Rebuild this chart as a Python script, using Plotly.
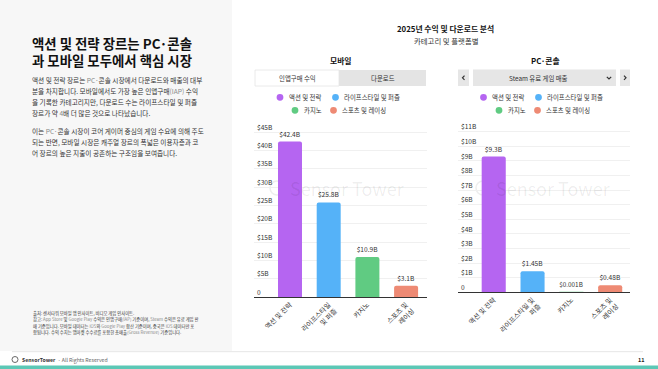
import plotly.graph_objects as go

W, H = 658, 369
FONT = "Noto Sans CJK KR"

# ---------------- data ----------------
categories_mobile = ["액션 및 전략", "라이프스타일<br>및 퍼즐", "카지노", "스포츠 및<br>레이싱"]
mobile_revenue = [42.4, 25.8, 10.9, 3.1]
mobile_labels = ["$42.4B", "$25.8B", "$10.9B", "$3.1B"]

categories_pc = ["액션 및 전략", "라이프스타일 및<br>퍼즐", "카지노", "스포츠 및<br>레이싱"]
pc_revenue = [9.3, 1.45, 0.001, 0.48]
pc_labels = ["$9.3B", "$1.45B", "$0.001B", "$0.48B"]

colors = ["#b565f1", "#55b2f8", "#60cb82", "#ee8a74"]
legend_names = ["액션 및 전략", "라이프스타일 및 퍼즐", "카지노", "스포츠 및 레이싱"]

mobile_tickvals = [0, 5, 10, 15, 20, 25, 30, 35, 40, 45]
mobile_ticktext = ["0", "$5B", "$10B", "$15B", "$20B", "$25B", "$30B", "$35B", "$40B", "$45B"]
pc_tickvals = [0, 1, 2, 3, 4, 5, 6, 7, 8, 9, 10, 11]
pc_ticktext = ["0", "$1B", "$2B", "$3B", "$4B", "$5B", "$6B", "$7B", "$8B", "$9B", "$10B", "$11B"]


def X(px):
    return px / W


def Y(py):
    return 1 - py / H


fig = go.Figure()

fig.add_trace(go.Bar(
    x=categories_mobile, y=mobile_revenue, text=mobile_labels,
    textposition="outside", cliponaxis=False,
    textfont=dict(size=6.6, color="#333333", family=FONT),
    marker=dict(color=colors, cornerradius=2, line=dict(width=0)),
    width=0.62, xaxis="x", yaxis="y", showlegend=False,
))
fig.add_trace(go.Bar(
    x=categories_pc, y=pc_revenue, text=pc_labels,
    textposition="outside", cliponaxis=False,
    textfont=dict(size=6.6, color="#333333", family=FONT),
    marker=dict(color=colors, cornerradius=2, line=dict(width=0)),
    width=0.62, xaxis="x2", yaxis="y2", showlegend=False,
))

# y axes: gridline for top tick at 132px (mobile) / 131.7px (pc); domain extended
# upward a little so that the top "inside top" tick label is not dropped.
m_bot, m_top, m_ext = 297.0, 132.0, 121.0
p_bot, p_top, p_ext = 292.3, 131.7, 120.7
m_rmax = 45 * (m_bot - m_ext) / (m_bot - m_top)
p_rmax = 11 * (p_bot - p_ext) / (p_bot - p_top)

axis_font = dict(size=6.6, color="#333333", family=FONT)
fig.update_layout(
    width=W, height=H,
    margin=dict(l=0, r=0, t=0, b=0),
    paper_bgcolor="white", plot_bgcolor="rgba(0,0,0,0)",
    font=dict(family=FONT, color="#222222"),
    bargap=0.3,
    xaxis=dict(domain=[X(254), X(427)], range=[-0.93, 3.54], anchor="y",
               tickangle=-45, tickfont=dict(size=6.8, color="#333333", family=FONT),
               showline=True, linecolor="#333333", linewidth=1.3,
               showgrid=False, ticks="", fixedrange=True),
    yaxis=dict(domain=[Y(m_bot), Y(m_ext)], range=[0, m_rmax], anchor="x",
               tickvals=mobile_tickvals, ticktext=mobile_ticktext,
               ticklabelposition="inside top", tickfont=axis_font,
               showgrid=True, gridcolor="#f0f0f0", gridwidth=1,
               zeroline=False, showline=False, ticks=""),
    xaxis2=dict(domain=[X(458), X(630)], range=[-0.92, 3.51], anchor="y2",
                tickangle=-45, tickfont=dict(size=6.8, color="#333333", family=FONT),
                showline=True, linecolor="#333333", linewidth=1.3,
                showgrid=False, ticks=""),
    yaxis2=dict(domain=[Y(p_bot), Y(p_ext)], range=[0, p_rmax], anchor="x2",
                tickvals=pc_tickvals, ticktext=pc_ticktext,
                ticklabelposition="inside top", tickfont=axis_font,
                showgrid=True, gridcolor="#f0f0f0", gridwidth=1,
                zeroline=False, showline=False, ticks=""),
)

shapes = []
annotations = []


def rect(x0, y0, x1, y1, fill, line=None, layer="below"):
    shapes.append(dict(type="rect", xref="paper", yref="paper",
                       x0=X(x0), x1=X(x1), y0=Y(y1), y1=Y(y0),
                       fillcolor=fill, layer=layer,
                       line=dict(width=0.8 if line else 0, color=line or fill)))


def text(x, y, s, size, color="#222222", bold=False, xanchor="center", align="left"):
    if bold:
        s = "<b>" + s + "</b>"
    annotations.append(dict(xref="paper", yref="paper", x=X(x), y=Y(y), text=s,
                            showarrow=False, xanchor=xanchor, yanchor="middle", align=align,
                            font=dict(size=size, color=color, family=FONT)))


# left panel background + footer
rect(0, 0, 232, 351, "#f7f7f7")
shapes.append(dict(type="line", xref="paper", yref="paper", x0=X(12), x1=X(643),
                   y0=Y(351.7), y1=Y(351.7), line=dict(color="#e6e6e6", width=1)))
rect(0, 365.5, 658, 369, "#5cc8b6")

# Left text
text(30, 42.5, "액션 및 전략 장르는 PC·콘솔", 13.4, "#111111", bold=True, xanchor="left")
text(30, 60.5, "과 모바일 모두에서 핵심 시장", 13.4, "#111111", bold=True, xanchor="left")

G = "#888888"
para1 = [
    f"액션 및 전략 장르는 <span style='color:{G}'>PC·</span>콘솔 시장에서 다운로드와 매출의 대부",
    f"분을 차지합니다. 모바일에서도 가장 높은 인앱구매<span style='color:{G}'>(IAP)</span> 수익",
    "을 기록한 카테고리지만, 다운로드 수는 라이프스타일 및 퍼즐",
    f"장르가 약 <span style='color:{G}'>4</span>배 더 많은 것으로 나타났습니다.",
]
for i, s in enumerate(para1):
    text(30, 80 + i * 11, s, 6.65, "#333333", xanchor="left")
para2 = [
    f"이는 <span style='color:{G}'>PC·</span>콘솔 시장이 코어 게이머 중심의 게임 수요에 의해 주도",
    "되는 반면, 모바일 시장은 캐주얼 장르의 폭넓은 이용자층과 코",
    "어 장르의 높은 지출이 공존하는 구조임을 보여줍니다.",
]
for i, s in enumerate(para2):
    text(30, 131 + i * 11, s, 6.65, "#333333", xanchor="left")

src = [
    "출처: 센서타워 모바일 앱 인사이트, 비디오 게임 인사이트.",
    f"참고: <span style='color:{G}'>App Store</span> 및 <span style='color:{G}'>Google Play</span> 수익은 인앱구매<span style='color:{G}'>(IAP)</span> 기준이며, <span style='color:{G}'>Steam</span> 수익은 유료 게임 판",
    f"매 기준입니다. 모바일 데이터는 <span style='color:{G}'>iOS</span>와 <span style='color:{G}'>Google Play</span> 합산 기준이며, 중국은 <span style='color:{G}'>iOS</span> 데이터만 포",
    f"함됩니다. 수익 수치는 앱마켓 수수료를 포함한 총매출<span style='color:{G}'>(Gross Revenue)</span> 기준입니다.",
]
for i, s in enumerate(src):
    text(30.5, 313.3 + i * 6.4, s, 4.3, "#333333", xanchor="left")

# footer
shapes.append(dict(type="circle", xref="paper", yref="paper", x0=X(12), x1=X(18),
                   y0=Y(362.5), y1=Y(356.5), line=dict(color="#444444", width=0.8)))
text(20, 359.8, "<b>SensorTower</b> <span style='color:#666666'> · All Rights Reserved</span>",
     5.2, "#333333", xanchor="left")
text(647, 359.5, "11", 5.5, "#222222", bold=True, xanchor="right")

# right header
text(445, 29, "2025년 수익 및 다운로드 분석", 7.8, "#111111", bold=True)
text(446, 40.5, "카테고리 및 플랫폼별", 7.4, "#333333")

# mobile header
text(341, 60.5, "모바일", 7.8, "#111111", bold=True)
rect(255, 70, 339, 86, "white", line="#e4e4e4")
rect(339, 70, 426, 86, "#e4e4e4")
text(297, 78, "인앱구매 수익", 6.4, "#333333")
text(383, 78, "다운로드", 6.4, "#333333")

# pc header
text(545, 60.5, "PC·콘솔", 7.8, "#111111", bold=True)
rect(458, 69.5, 469, 86, "#e6e6e6")
rect(473, 69.5, 616, 86, "#e6e6e6")
rect(620, 69.5, 630, 86, "#e6e6e6")
text(538, 78, "Steam 유료 게임 매출", 6.4, "#333333")


def chevron(pts):
    path = "M " + " L ".join(f"{X(a)},{Y(b)}" for a, b in pts)
    shapes.append(dict(type="path", xref="paper", yref="paper", path=path,
                       line=dict(color="#333333", width=1.2)))


chevron([(464.5, 75.7), (462.5, 77.8), (464.5, 79.9)])
chevron([(624, 75.7), (626, 77.8), (624, 79.9)])
chevron([(606.8, 76.8), (609, 79), (611.2, 76.8)])


# legends
def legend_item(cx, cy, color, label):
    r = 3.4
    shapes.append(dict(type="circle", xref="paper", yref="paper",
                       x0=X(cx - r), x1=X(cx + r), y0=Y(cy + r), y1=Y(cy - r),
                       fillcolor=color, line=dict(width=0)))
    text(cx + 6.5, cy, label, 6.4, "#333333", xanchor="left")


legend_item(280, 97.3, colors[0], legend_names[0])
legend_item(335.5, 97.3, colors[1], legend_names[1])
legend_item(295, 110.3, colors[2], legend_names[2])
legend_item(333.5, 110.3, colors[3], legend_names[3])

legend_item(483.5, 97.3, colors[0], legend_names[0])
legend_item(538.5, 97.3, colors[1], legend_names[1])
legend_item(499, 110.3, colors[2], legend_names[2])
legend_item(537.5, 110.3, colors[3], legend_names[3])

# watermarks
for cx in (340, 546):
    text(cx + 7, 188, "Sensor Tower", 18, "rgba(0,0,0,0.07)")
    shapes.append(dict(type="circle", xref="paper", yref="paper",
                       x0=X(cx - 70), x1=X(cx - 56), y0=Y(195), y1=Y(181),
                       line=dict(color="rgba(0,0,0,0.07)", width=1.5), layer="below"))

fig.update_layout(shapes=shapes, annotations=annotations)
fig.write_html("out.html")
